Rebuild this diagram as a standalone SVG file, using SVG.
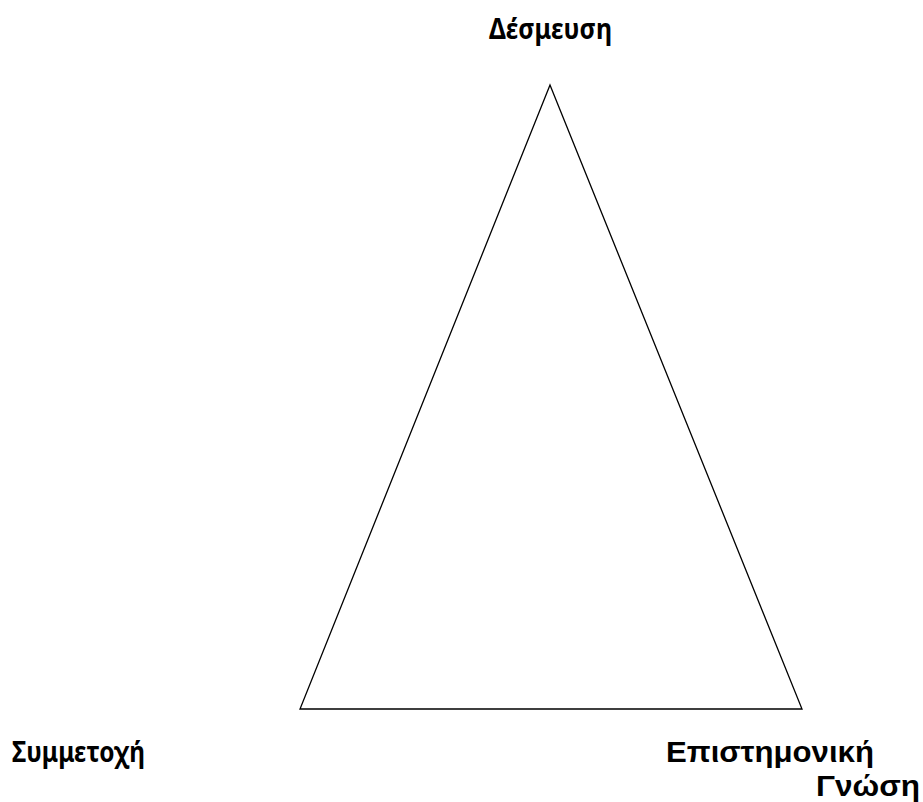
<svg xmlns="http://www.w3.org/2000/svg" width="923" height="802" viewBox="0 0 923 802">
<style>
.lbl{font-family:"Liberation Sans","DejaVu Sans",Arial,sans-serif;font-weight:bold;font-size:29px;fill:#000}
.lbl2{font-family:"Noto Sans","DejaVu Sans",sans-serif;font-weight:bold;font-size:28px;fill:#000}
.edge{fill:none;stroke:#000;stroke-width:1.3}
</style>
<rect width="923" height="802" fill="#fff"/>
<g id="connectors">
<polygon class="edge" points="550,85 802,709 300,709"/>
</g>
<g id="node-desmeusi"><text class="lbl2" x="489" y="39" textLength="123" lengthAdjust="spacingAndGlyphs">Δέσμευση</text></g>
<g id="node-symmetochi"><text class="lbl2" x="12" y="762" textLength="133" lengthAdjust="spacingAndGlyphs">Συμμετοχή</text></g>
<g id="node-gnosi"><text class="lbl" x="666" y="762" textLength="208" lengthAdjust="spacingAndGlyphs">Επιστημονική</text><text class="lbl" x="816" y="796" textLength="104" lengthAdjust="spacingAndGlyphs">Γνώση</text></g>
</svg>
